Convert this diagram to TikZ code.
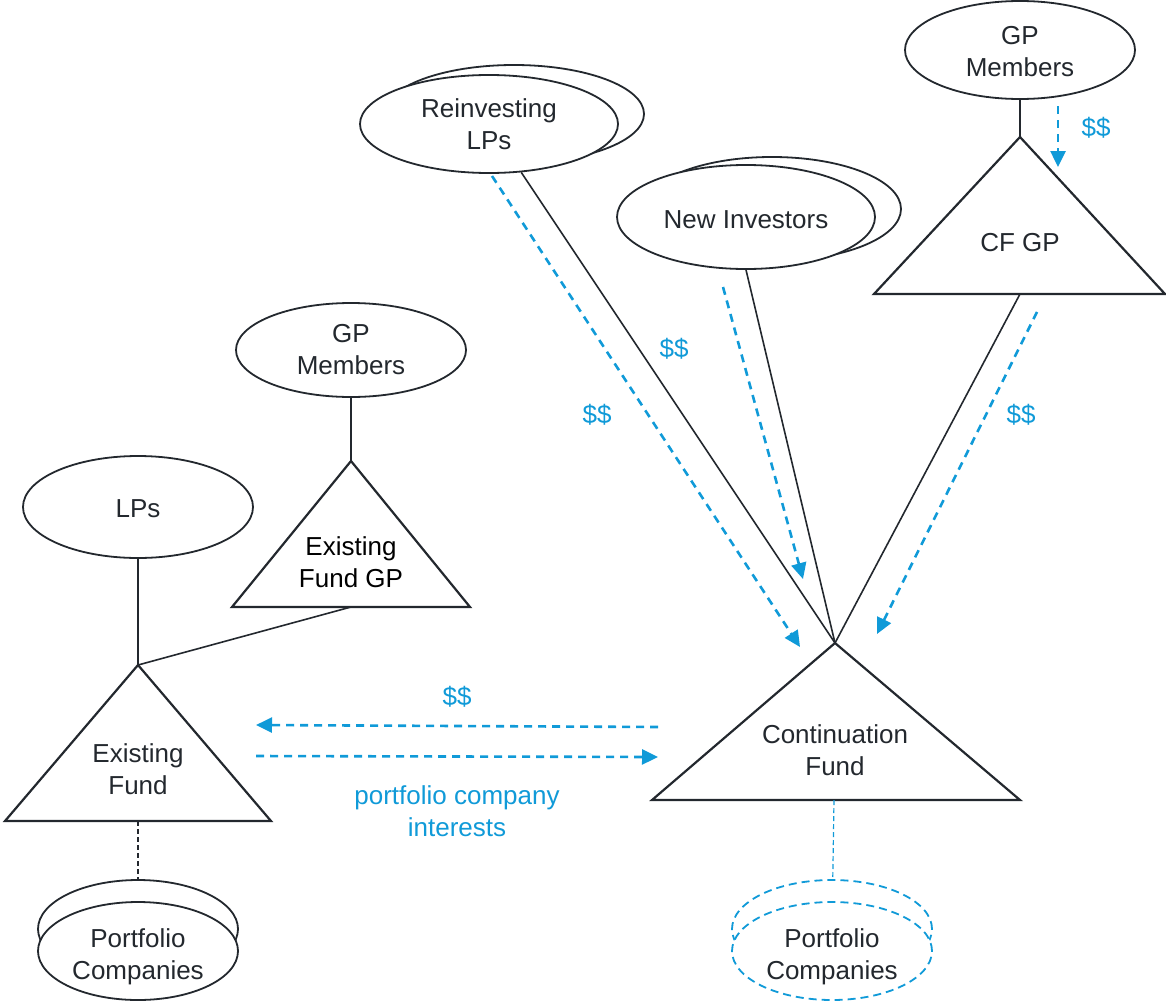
\documentclass[tikz,border=0pt]{standalone}
\usepackage{fontspec}
\setmainfont{Liberation Sans}
\usepackage{xcolor}
\usepackage{tikz}
\usetikzlibrary{shapes.geometric, arrows.meta}
\definecolor{ink}{RGB}{35,40,46}
\definecolor{cfblue}{RGB}{16,154,216}
\tikzstyle{party} = [ellipse, draw=ink, fill=white, line width=1.8pt, inner sep=0pt, minimum width=230pt, minimum height=96pt, align=center, text=ink]
\tikzstyle{holding} = [ellipse, draw=ink, fill=white, line width=1.8pt, inner sep=0pt, minimum width=200pt, minimum height=98pt, align=center, text=ink]
\tikzstyle{fund} = [draw=ink, line width=2.2pt, line join=miter]
\tikzstyle{fundtext} = [align=center, text=ink]
\tikzstyle{tie} = [draw=ink, line width=1.6pt]
\tikzstyle{money} = [draw=cfblue, line width=2.6pt, dash pattern=on 8pt off 6pt, -{Triangle[length=16pt,width=15pt]}]
\tikzstyle{cash} = [text=cfblue, align=center]

\begin{document}
\begin{tikzpicture}[x=1pt, y=-1pt, font=\fontsize{26}{32}\selectfont]
		\useasboundingbox (0,0) rectangle (1166,1001);
		
		\node (ReinvBack) [party, minimum width=260pt, minimum height=98pt] at (514,114) {};
		\node (ReinvLPs) [party, minimum width=258pt, minimum height=98pt] at (489,124) {Reinvesting\\LPs};
		\node (NewBack) [party, minimum width=258pt, minimum height=104pt] at (772,209) {};
		\node (NewInv) [party, minimum width=258pt, minimum height=104pt] at (746,217) {};
		\node (NewInvText) [fundtext] at (746,220) {New Investors};
		\node (CFMembers) [party, minimum height=98pt] at (1020,50) {};
		\node (CFMembersText) [fundtext] at (1020,52) {GP\\Members};
		\node (EFMembers) [party, minimum height=94pt] at (351,350) {GP\\Members};
		\node (LPs) [party, minimum height=102pt] at (138,507) {};
		\node (LPsText) [fundtext] at (138,509) {LPs};
		\node (PortBackL) [holding] at (138,929) {};
		\node (PortL) [holding] at (138,951) {};
		\node (PortLText) [fundtext] at (138,957) {Portfolio\\Companies};
		\node (PortBackR) [holding, draw=cfblue, dash pattern=on 8pt off 5pt] at (832,929) {};
		\node (PortR) [holding, draw=cfblue, dash pattern=on 8pt off 5pt] at (832,951) {};
		\node (PortRText) [fundtext] at (832,957) {Portfolio\\Companies};
		
		\draw [fund] (1020,137) coordinate (CFGPtop) -- (1165,294) -- (874,294) -- cycle;
		\coordinate (CFGPbase) at (1020,294);
		\node (CFGP) [fundtext] at (1020,243) {CF GP};
		\draw [fund] (351,461) coordinate (EFGPtop) -- (470,607) -- (232,607) -- cycle;
		\coordinate (EFGPbase) at (351,607);
		\node (EFGP) [fundtext, text=black] at (351,562) {Existing\\Fund GP};
		\draw [fund] (138,665) coordinate (EFtop) -- (271,821) -- (5,821) -- cycle;
		\coordinate (EFbase) at (138,821);
		\node (EF) [fundtext] at (138,769) {Existing\\Fund};
		\draw [fund] (835,643) coordinate (CFtop) -- (1020,800) -- (652,800) -- cycle;
		\coordinate (CFbase) at (834,800);
		\node (CF) [fundtext] at (835,750) {Continuation\\Fund};
		
		\draw [tie] (CFMembers) -- (CFGPtop);
		\draw [tie] (EFMembers) -- (EFGPtop);
		\draw [tie] (LPs) -- (EFtop);
		\draw [tie] (EFGPbase) -- (EFtop);
		\draw [tie] (ReinvLPs) -- (CFtop);
		\draw [tie] (NewInv.south) -- (CFtop);
		\draw [tie] (CFGPbase) -- (CFtop);
		\draw [draw=ink, line width=1.2pt, dash pattern=on 5pt off 3pt] (EFbase) -- (PortBackL);
		\draw [draw=cfblue, line width=1.2pt, dash pattern=on 5pt off 3pt] (CFbase) -- (PortBackR);
		
		\coordinate (RLout) at (492,176);
		\coordinate (RLin) at (800,647);
		\coordinate (NIout) at (723,287);
		\coordinate (NIin) at (803,579);
		\coordinate (GPout) at (1037,312);
		\coordinate (GPin) at (877,634);
		\coordinate (MBout) at (1058,106);
		\coordinate (MBin) at (1058,167);
		\coordinate (CashOut) at (658,727);
		\coordinate (CashIn) at (256,725);
		\coordinate (StakeOut) at (256,756);
		\coordinate (StakeIn) at (658,757);
		
		\draw [money] (RLout) -- (RLin);
		\draw [money] (NIout) -- (NIin);
		\draw [money] (GPout) -- (GPin);
		\draw [money] (MBout) -- (MBin);
		\draw [money] (CashOut) -- (CashIn);
		\draw [money] (StakeOut) -- (StakeIn);
		
		\node (RLcash) [cash] at (597,415) {\$\$};
		\node (NIcash) [cash] at (674,349) {\$\$};
		\node (GPcash) [cash] at (1021,415) {\$\$};
		\node (MBcash) [cash] at (1096,128) {\$\$};
		\node (CFcash) [cash] at (457,697) {\$\$};
		\node (Stake) [cash] at (457,811) {portfolio company\\interests};
	\end{tikzpicture}
\end{document}
